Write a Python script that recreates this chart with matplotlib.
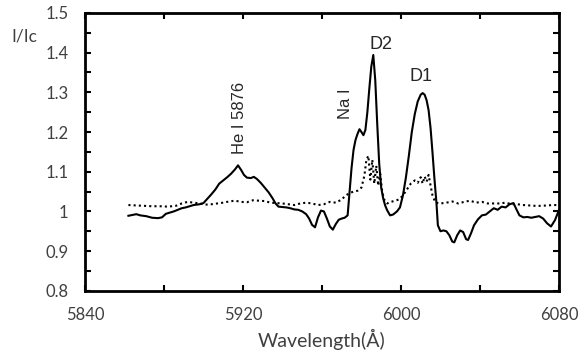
import numpy as np
import matplotlib
matplotlib.use('Agg')
import matplotlib.pyplot as plt
from matplotlib.ticker import MultipleLocator

# solid line (spectrum)
wl_obs = [5862, 5864, 5866, 5868, 5871, 5874, 5877, 5879, 5881, 5883, 5885, 5887,
          5889, 5891, 5893, 5895, 5898, 5900, 5902, 5904, 5906, 5908, 5910, 5912,
          5914, 5916, 5917.5, 5919, 5920.5, 5922, 5924, 5925.5, 5927, 5929, 5931,
          5933, 5935, 5936.5, 5938, 5940, 5942, 5944, 5946, 5948, 5950, 5952,
          5953.5, 5955, 5956.5, 5958, 5959.5, 5961, 5962.5, 5964, 5965.5, 5967,
          5968.5, 5970, 5971.5, 5973, 5974, 5975, 5976, 5977, 5978, 5979, 5980,
          5981, 5982, 5983, 5984, 5985, 5986, 5987, 5988, 5989, 5990, 5991, 5992,
          5993, 5994.5, 5996, 5998, 5999.5, 6001, 6002.5, 6004, 6005.5, 6007,
          6008.5, 6010, 6011, 6012, 6013, 6014, 6015, 6016, 6017, 6018, 6018.7,
          6020, 6021.5, 6023, 6024.5, 6026, 6027, 6028.5, 6030, 6031.5, 6033,
          6034, 6035.5, 6037, 6039, 6041, 6043, 6045, 6047, 6049, 6051, 6053,
          6055, 6057, 6058.5, 6060, 6062, 6064, 6066, 6068, 6070, 6072, 6074,
          6076, 6078, 6080]
flux_obs = [0.989, 0.991, 0.993, 0.990, 0.988, 0.984, 0.983, 0.985, 0.994, 0.997,
            1.000, 1.004, 1.008, 1.010, 1.013, 1.016, 1.018, 1.021, 1.032, 1.043,
            1.055, 1.070, 1.078, 1.086, 1.095, 1.106, 1.116, 1.105, 1.092, 1.085,
            1.084, 1.087, 1.082, 1.072, 1.060, 1.048, 1.033, 1.020, 1.012, 1.011,
            1.010, 1.008, 1.005, 1.004, 1.000, 0.993, 0.982, 0.966, 0.960, 0.985,
            1.002, 1.000, 0.982, 0.962, 0.954, 0.968, 0.979, 0.982, 0.984, 0.990,
            1.050, 1.110, 1.155, 1.180, 1.195, 1.207, 1.200, 1.192, 1.205, 1.250,
            1.310, 1.365, 1.394, 1.330, 1.220, 1.120, 1.060, 1.033, 1.015, 1.003,
            0.990, 0.992, 1.000, 1.010, 1.040, 1.085, 1.140, 1.200, 1.245, 1.277,
            1.294, 1.298, 1.294, 1.280, 1.255, 1.210, 1.147, 1.080, 1.020, 0.965,
            0.950, 0.952, 0.950, 0.940, 0.924, 0.922, 0.940, 0.952, 0.948, 0.930,
            0.928, 0.945, 0.965, 0.980, 0.990, 0.992, 1.000, 1.008, 1.004, 1.012,
            1.010, 1.018, 1.021, 1.005, 0.990, 0.985, 0.986, 0.984, 0.986, 0.988,
            0.982, 0.970, 0.962, 0.978, 1.003]

# dotted line
wl_ref = [5862, 5866, 5870, 5874, 5878, 5882, 5886, 5889, 5892, 5895, 5898, 5901,
          5904, 5907, 5910, 5913, 5916, 5919, 5922, 5925, 5928, 5931, 5934, 5937,
          5940, 5943, 5946, 5949, 5952, 5955, 5958, 5961, 5964, 5967, 5970, 5972,
          5974, 5976, 5978, 5980, 5981.5, 5982.5, 5983.5, 5984.5, 5985.5, 5986.5,
          5987.5, 5988.5, 5989.5, 5990.5, 5991.5, 5993, 5995, 5997, 5999, 6001,
          6003, 6005, 6007, 6008.5, 6010, 6011, 6012, 6013, 6014, 6015, 6016,
          6017.5, 6020, 6023, 6026, 6029, 6032, 6035, 6038, 6041, 6044, 6047,
          6050, 6053, 6056, 6059, 6062, 6065, 6068, 6071, 6074, 6077, 6080]
flux_ref = [1.016, 1.015, 1.014, 1.013, 1.013, 1.012, 1.014, 1.020, 1.024, 1.022,
            1.020, 1.017, 1.018, 1.020, 1.022, 1.025, 1.027, 1.024, 1.023, 1.028,
            1.027, 1.026, 1.022, 1.021, 1.020, 1.018, 1.016, 1.020, 1.022, 1.020,
            1.016, 1.018, 1.024, 1.022, 1.030, 1.040, 1.046, 1.050, 1.052, 1.060,
            1.090, 1.130, 1.140, 1.080, 1.130, 1.070, 1.115, 1.065, 1.095, 1.050,
            1.030, 1.020, 1.024, 1.027, 1.030, 1.040, 1.055, 1.070, 1.078, 1.072,
            1.086, 1.070, 1.088, 1.075, 1.092, 1.065, 1.040, 1.022, 1.020, 1.022,
            1.025, 1.020, 1.024, 1.027, 1.022, 1.024, 1.020, 1.020, 1.020, 1.022,
            1.018, 1.018, 1.016, 1.015, 1.014, 1.014, 1.015, 1.016, 1.016]

tick_col = '#404040'

fig = plt.figure(figsize=(5.78, 3.59), dpi=100)
ax = fig.add_axes([0.147, 0.190, 0.820, 0.774])

ax.plot(wl_obs, flux_obs, color='black', lw=1.5)
ax.plot(wl_ref, flux_ref, color='black', lw=1.5, linestyle=(0, (1, 1.5)))

ax.set_xlim(5840, 6080)
ax.set_ylim(0.8, 1.5)
ax.xaxis.set_major_locator(MultipleLocator(80))
ax.xaxis.set_minor_locator(MultipleLocator(40))
ax.yaxis.set_major_locator(MultipleLocator(0.1))
ax.yaxis.set_minor_locator(MultipleLocator(0.05))
ax.set_yticks(np.arange(0.8, 1.51, 0.1))
ax.set_yticklabels(['0.8', '0.9', '1', '1.1', '1.2', '1.3', '1.4', '1.5'])

for sp in ax.spines.values():
    sp.set_linewidth(2)
ax.tick_params(which='both', direction='in', top=True, right=True,
               length=4, width=1.5, pad=12, labelsize=12, labelcolor=tick_col)
for lab in ax.get_xticklabels() + ax.get_yticklabels():
    lab.set_family('Lato')

ax.set_xlabel('Wavelength(Å)', fontsize=14, color=tick_col, family='Lato', labelpad=4)
fig.text(0.043, 0.897, 'I/Ic', fontsize=12.5, color=tick_col, family='Lato',
         ha='center', va='center')

txt_col = '#262626'
ax.text(5918, 1.145, 'He I 5876', rotation=90, ha='center', va='bottom',
        fontsize=12, color=txt_col, family='Liberation Sans')
ax.text(5972, 1.233, 'Na I', rotation=90, ha='center', va='bottom',
        fontsize=12, color=txt_col, family='Liberation Sans')
ax.text(5990, 1.409, 'D2', ha='center', va='baseline',
        fontsize=13, color=txt_col, family='Liberation Sans')
ax.text(6010, 1.329, 'D1', ha='center', va='baseline',
        fontsize=13, color=txt_col, family='Liberation Sans')

fig.savefig('out.png', dpi=100)
